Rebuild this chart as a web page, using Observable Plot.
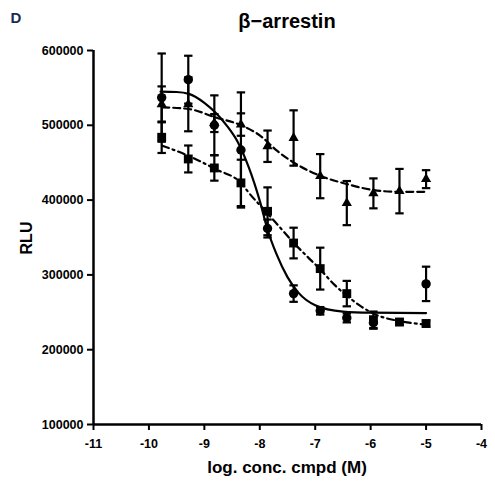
<!DOCTYPE html>
<html>
<head>
<meta charset="utf-8">
<script src="https://cdn.jsdelivr.net/npm/d3@7"></script>
<script src="https://cdn.jsdelivr.net/npm/@observablehq/plot@0.6"></script>
<style>
  html, body { margin: 0; padding: 0; background: #fff; }
  #chart { position: relative; width: 495px; height: 484px; }
  #chart svg text { font-weight: bold; }
</style>
</head>
<body>
<div id="chart"></div>
<script>
// ---- data ----
const logConc = [-9.77, -9.29, -8.82, -8.34, -7.86, -7.39, -6.91, -6.43, -5.95, -5.48, -5.0];

const circleMean   = [537000, 561000, 500000, 467000, 362000, 275000, 252000, 242500, 236000, null, 288000];
const circleErr    = [59000, 32000, 40000, 77000, 12000, 11000, 5000, 6000, 8000, null, 23000];
const triangleMean = [528000, 528000, 503000, 501000, 472000, 483000, 432000, 396000, 409000, 412000, 428000];
const triangleErr  = [24000, 36000, 12000, 15000, 21000, 37000, 29500, 29500, 20000, 29700, 12000];
const squareMean   = [484000, 455000, 443000, 423000, 385000, 342600, 308400, 275000, 240000, 237000, 235000];
const squareErr    = [21000, 18000, 17000, 31000, 32000, 20500, 28000, 17000, 11000, 4000, 4000];

// fitted curves
const circleFitX   = [-9.79, -9.5, -9.28, -9.0, -8.8, -8.6, -8.4, -8.2, -8.0, -7.85, -7.7, -7.5, -7.3, -7.0, -6.5, -6.0, -5.0];
const circleFitY   = [545000, 544500, 542000, 530000, 517000, 500000, 478000, 444000, 399000, 358000, 328000, 297000, 276000, 259500, 251000, 249500, 249000];
const triangleFitX = [-9.76, -9.28, -8.80, -8.32, -7.99, -7.69, -7.39, -6.91, -6.42, -5.94, -5.46, -5.01];
const triangleFitY = [524000, 521800, 510600, 499500, 486000, 466000, 450300, 432400, 421300, 413300, 411000, 411000];
const squareFitX   = [-9.76, -9.28, -8.80, -8.32, -8.20, -7.87, -7.63, -7.39, -7.15, -6.91, -6.66, -6.42, -6.18, -5.94, -5.46, -5.01];
const squareFitY   = [472700, 459000, 441400, 421300, 410000, 383000, 363000, 343000, 325000, 307400, 287300, 271600, 258200, 247900, 238000, 233600];

const xTicks = [-11, -10, -9, -8, -7, -6, -5, -4];
const xTickLabels = ["-11", "-10", "-9", "-8", "-7", "-6", "-5", "-4"];
const yTicks = [100000, 200000, 300000, 400000, 500000, 600000];
const yTickLabels = ["100000", "200000", "300000", "400000", "500000", "600000"];

const panelLabel = "D";
const titleText = "β−arrestin";
const xTitle = "log. conc. cmpd (M)";
const yTitle = "RLU";

// ---- build tables ----
const rows = (mean, err) => logConc.map((x, i) => ({x, m: mean[i], e: err[i]})).filter(d => d.m != null);
const circles = rows(circleMean, circleErr);
const triangles = rows(triangleMean, triangleErr);
const squares = rows(squareMean, squareErr);
const fit = (xs, ys) => xs.map((x, i) => ({x, y: ys[i]}));

const cap = {
  draw(ctx, size) {
    const h = Math.sqrt(size / Math.PI);
    ctx.moveTo(-h, 0);
    ctx.lineTo(h, 0);
  }
};

const errMarks = (data) => [
  Plot.ruleX(data, {x: "x", y1: d => d.m - d.e, y2: d => d.m + d.e, stroke: "black", strokeWidth: 2.2}),
  Plot.dot(data, {x: "x", y: d => d.m + d.e, symbol: cap, r: 4.2, stroke: "black", strokeWidth: 2.2}),
  Plot.dot(data, {x: "x", y: d => d.m - d.e, symbol: cap, r: 4.2, stroke: "black", strokeWidth: 2.2})
];

const chart = Plot.plot({
  width: 495,
  height: 484,
  marginLeft: 93,
  marginRight: 14,
  marginTop: 50,
  marginBottom: 60,
  style: {fontFamily: "'Liberation Sans', Arial, sans-serif", fontSize: "12.5px", color: "black", background: "white"},
  x: {domain: [-11, -4]},
  y: {domain: [100000, 600000]},
  marks: [
    Plot.axisX({ticks: xTicks, tickFormat: d => xTickLabels[xTicks.indexOf(d)], tickSize: 6, tickPadding: 9, strokeWidth: 2, label: null, fontSize: 12.5}),
    Plot.axisY({ticks: yTicks, tickFormat: d => yTickLabels[yTicks.indexOf(d)], tickSize: 6, tickPadding: 4, strokeWidth: 2, label: null, fontSize: 12.5}),
    Plot.ruleY([100000], {stroke: "black", strokeWidth: 2.5}),
    Plot.ruleX([-11], {stroke: "black", strokeWidth: 2.5}),
    Plot.line(fit(circleFitX, circleFitY), {x: "x", y: "y", curve: "monotone-x", stroke: "black", strokeWidth: 2.2}),
    Plot.line(fit(triangleFitX, triangleFitY), {x: "x", y: "y", curve: "monotone-x", stroke: "black", strokeWidth: 2.2, strokeDasharray: "7,4"}),
    Plot.line(fit(squareFitX, squareFitY), {x: "x", y: "y", curve: "monotone-x", stroke: "black", strokeWidth: 2.2, strokeDasharray: "7,4,2,4"}),
    ...errMarks(triangles),
    ...errMarks(squares),
    ...errMarks(circles),
    Plot.dot(triangles, {x: "x", y: "m", symbol: "triangle", r: 3.8, fill: "black"}),
    Plot.dot(squares, {x: "x", y: "m", symbol: "square", r: 5, fill: "black"}),
    Plot.dot(circles, {x: "x", y: "m", symbol: "circle", r: 4.7, fill: "black"})
  ]
});

document.getElementById("chart").appendChild(chart);

// titles
const svg = d3.select(chart);
const font = "'Liberation Sans', Arial, sans-serif";
svg.append("text").attr("x", 16).attr("y", 23).attr("font-family", font).attr("font-size", 15)
  .attr("font-weight", "bold").attr("fill", "#1b2a55").text(panelLabel);
svg.append("text").attr("x", 287).attr("y", 27.5).attr("text-anchor", "middle").attr("font-family", font)
  .attr("font-size", 20).attr("font-weight", "bold").attr("fill", "black").text(titleText);
svg.append("text").attr("x", 287).attr("y", 472.5).attr("text-anchor", "middle").attr("font-family", font)
  .attr("font-size", 17).attr("font-weight", "bold").attr("fill", "black").text(xTitle);
svg.append("text").attr("transform", "translate(31.5,238) rotate(-90)").attr("text-anchor", "middle").attr("font-family", font)
  .attr("font-size", 16).attr("font-weight", "bold").attr("fill", "black").text(yTitle);
</script>
</body>
</html>
